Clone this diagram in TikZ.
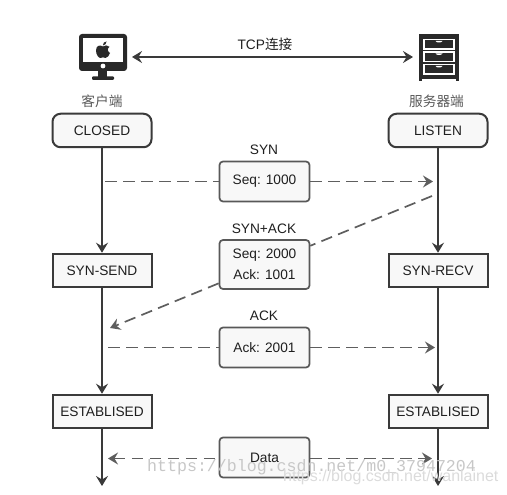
\documentclass[tikz,border=0pt]{standalone}
\usepackage{fontspec}
\setmainfont{Liberation Sans}
\setmonofont{Liberation Mono}
\newfontfamily\cjk{Noto Sans CJK SC}
\usetikzlibrary{arrows.meta,positioning}
\definecolor{inkc}{HTML}{3A3A3A}
\definecolor{dashc}{HTML}{5E5E5E}
\definecolor{boxc}{HTML}{F8F8F8}
\tikzset{
  statebox/.style={draw=inkc, fill=boxc, line width=2pt, minimum width=99pt, minimum height=33.5pt, inner sep=0pt, font=\fontsize{13.7}{16}\selectfont, text=black!88},
  roundstate/.style={statebox, rounded corners=8pt},
  msgbox/.style={draw=inkc!85, fill=boxc, line width=1.7pt, rounded corners=3.5pt, minimum width=90pt, inner sep=0pt, align=center, font=\fontsize{13.7}{21}\selectfont, text=black!88},
  msglabel/.style={font=\fontsize{13.7}{16}\selectfont, text=black!88, inner sep=0pt},
  cjklabel/.style={font=\cjk\fontsize{13.7}{16}\selectfont, text=black!65, inner sep=0pt},
  flow/.style={draw=inkc, line width=2pt, -{Stealth[length=10pt,width=12pt,inset=3.5pt]}},
  msgline/.style={draw=dashc, line width=1.7pt, dash pattern=on 11.5pt off 6.5pt},
  msgtip/.style={{Stealth[length=10pt,width=12pt,inset=3.5pt]}-},
  mark text/.style={inner sep=0pt, anchor=west},
}

\begin{document}
\begin{tikzpicture}[x=1pt, y=-1pt]
  \useasboundingbox (0,0) rectangle (507,495);

  % monitor
  \fill[inkc!70!black, rounded corners=3pt] (79,34) rectangle (127,71);
  \fill[white] (83,38) rectangle (123,62);
  \fill[white] (103,66) circle (2.4pt);
  \fill[inkc!70!black] (98,71) rectangle (107,77);
  \fill[inkc!70!black, rounded corners=1pt] (92,76.5) rectangle (114,80);
  \fill[inkc!70!black] (103,46.5) .. controls (100,44.5) and (96,45.5) .. (96,50.5)
    .. controls (96,54.5) and (98.5,58) .. (100.5,58) .. controls (101.5,58) and (102,57.3) .. (103,57.3)
    .. controls (104,57.3) and (104.5,58) .. (105.5,58) .. controls (107.5,58) and (109.5,55) .. (110,53)
    .. controls (107.5,52) and (107,48) .. (109.5,46.8) .. controls (107.5,44.5) and (105,45.5) .. (103,46.5) -- cycle;
  \fill[inkc!70!black] (102.8,45.5) .. controls (102.8,43) and (104.5,41.5) .. (106.5,41.5)
    .. controls (106.5,43.5) and (105,45.5) .. (102.8,45.5) -- cycle;

  % server
  \fill[inkc!70!black] (419,34) rectangle (459,79);
  \fill[inkc!70!black] (419,79) rectangle (422,81);
  \fill[inkc!70!black] (456,79) rectangle (459,81);
  \foreach \y in {39.5, 52, 64.5} {
    \draw[white, line width=1.3pt] (424,\y) rectangle (454,\y+9.5);
    \fill[white] (435.5,\y+1.5) -- (442.5,\y+1.5) .. controls (442,\y+3.5) and (436,\y+3.5) .. (435.5,\y+1.5) -- cycle;
  }

  \coordinate (clienticon) at (132,57);
  \coordinate (servericon) at (413,57);
  \draw[flow, {Stealth[length=10pt,width=12pt,inset=3.5pt]}-{Stealth[length=10pt,width=12pt,inset=3.5pt]}, line width=1.7pt] (clienticon) -- (servericon);
  \node[msglabel] (tcplabel) at (265,44) {TCP{\cjk\fontsize{13.7}{16}\selectfont 连接}};
  \node[cjklabel] (clientlabel) at (102,101) {客户端};
  \node[cjklabel] (serverlabel) at (436.5,101) {服务器端};

  % states
  \node[roundstate] (closed) at (102,130.5) {CLOSED};
  \node[roundstate] (listen) at (438,130.5) {LISTEN};
  \node[statebox] (synsend) at (102,270.5) {SYN-SEND};
  \node[statebox] (synrecv) at (438,270.5) {SYN-RECV};
  \node[statebox] (estl) at (102,411.5) {ESTABLISED};
  \node[statebox] (estr) at (438,411.5) {ESTABLISED};
  \coordinate (endl) at (102,486);
  \coordinate (endr) at (438,486);

  \draw[flow] (closed) -- (synsend);
  \draw[flow] (synsend) -- (estl);
  \draw[flow] (estl) -- (endl);
  \draw[flow] (listen) -- (synrecv);
  \draw[flow] (synrecv) -- (estr);
  \draw[flow] (estr) -- (endr);

  % messages
  \node[msgbox, minimum height=40pt] (synbox) at (264.5,181.5) {Seq: 1000};
  \node[msgbox, minimum height=49pt] (synackbox) at (264.5,264.5) {Seq: 2000\\Ack: 1001};
  \node[msgbox, minimum height=40pt] (ackbox) at (264.5,347.5) {Ack: 2001};
  \node[msgbox, minimum height=40pt] (databox) at (264.5,457.5) {Data};
  \node[msglabel] (synlabel) at (264,150) {SYN};
  \node[msglabel] (synacklabel) at (264,229) {SYN+ACK};
  \node[msglabel] (acklabel) at (264,316) {ACK};

  \coordinate (synl) at (105,181.5);
  \coordinate (synr) at (433,181.5);
  \coordinate (synackr) at (432,196);
  \coordinate (synackl) at (110,328);
  \coordinate (ackl) at (108,347.5);
  \coordinate (ackr) at (435,347.5);
  \coordinate (datal) at (108,458.5);
  \coordinate (datar) at (432,458.5);

  \draw[msgline] (synl) -- (synbox);
  \draw[msgline, -{Stealth[length=10pt,width=12pt,inset=3.5pt]}] (synbox) -- (synr);
  \draw[msgline] (synackr) -- (synackbox);
  \draw[msgline, -{Stealth[length=10pt,width=12pt,inset=3.5pt]}] (synackbox) -- (synackl);
  \draw[msgline] (ackl) -- (ackbox);
  \draw[msgline, -{Stealth[length=10pt,width=12pt,inset=3.5pt]}] (ackbox) -- (ackr);
  \draw[msgline, msgtip] (datal) -- (datal -| databox.west);
  \draw[msgline, -{Stealth[length=10pt,width=12pt,inset=3.5pt]}] (datar -| databox.east) -- (datar);

  % watermarks
  \node[mark text, text=black!22, font=\ttfamily\fontsize{16.6}{18}\selectfont] (markone) at (147,467) {https://blog.csdn.net/m0\_37947204};
  \node[mark text, text=black!14, font=\fontsize{16}{18}\selectfont] (marktwo) at (283,477) {https://blog.csdn.net/wanlainet};
\end{tikzpicture}
\end{document}
